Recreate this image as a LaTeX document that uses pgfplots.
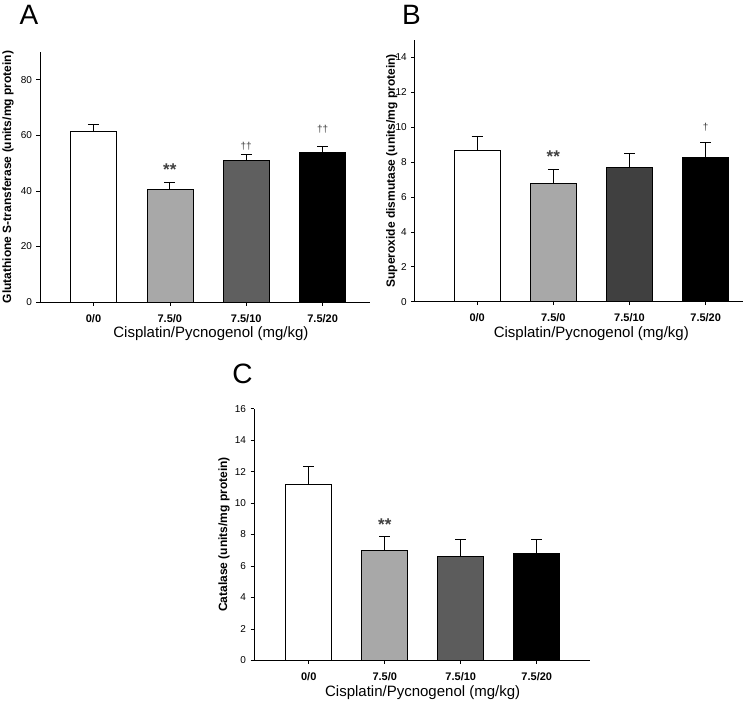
\documentclass[border=0pt]{standalone}
\usepackage{pgfplots}
\pgfplotsset{compat=1.18}
\usepackage{fontspec}
\setmainfont{Liberation Sans}
\definecolor{lgray}{RGB}{168,168,168}
\definecolor{dgrayA}{RGB}{95,95,95}
\definecolor{dgrayB}{RGB}{64,64,64}
\definecolor{dgrayC}{RGB}{92,92,92}
\pgfplotsset{
  panel/.style={
    scale only axis,
    axis x line*=bottom, axis y line*=left,
    axis line style={-, line width=0.8pt},
    ymin=0,
    xtick={0,1,2,3},
    xticklabels={0/0,7.5/0,7.5/10,7.5/20},
    tick align=outside,
    major tick length=3.5pt,
    tick style={line width=0.7pt, black},
    /pgf/number format/assume math mode=true,
    yticklabel style={font=\fontsize{10}{12}\selectfont, xshift=-1pt},
    xticklabel style={font=\fontsize{11}{13}\selectfont\bfseries, yshift=-5pt},
    xlabel={Cisplatin/Pycnogenol (mg/kg)},
    xlabel style={font=\fontsize{15}{17}\selectfont, anchor=center, yshift=-32pt},
    ylabel style={font=\fontsize{12}{14}\selectfont\bfseries, anchor=center},
    ybar, bar width=46pt, bar shift=0pt,
    every axis plot/.append style={draw=black, line width=0.7pt,
      error bars/y dir=plus, error bars/y explicit,
      error bars/error mark=|,
      error bars/error bar style={line width=0.9pt, black},
      error bars/error mark options={mark size=5.5pt, line width=0.9pt, black}},
  },
}
\begin{document}
\begin{tikzpicture}
\useasboundingbox (0pt,0pt) rectangle (748pt,-702pt);
% Panel A
\begin{axis}[panel,
  at={(40pt,-302pt)}, anchor=south west, width=330pt, height=250pt,
  xmin=-0.70, xmax=3.62, ymax=90, ytick={0,20,40,60,80},
  xlabel style={at={(axis description cs:0.518,0)}},
  ylabel={Glutathione S-transferase (units/mg protein)},
  ylabel style={at={(axis description cs:0,0.5)}, yshift=32pt}]
\addplot[fill=white] coordinates {(0,61.4) +- (0,2.6)};
\addplot[fill=lgray] coordinates {(1,40.5) +- (0,2.5)};
\addplot[fill=dgrayA] coordinates {(2,50.9) +- (0,2.1)};
\addplot[fill=black] coordinates {(3,53.9) +- (0,2.1)};
\node[font=\fontsize{17}{19}\selectfont\bfseries, text=black!75] at (axis cs:1,47.5) {**};
\node[font=\fontsize{10}{12}\selectfont, text=black!75] at (axis cs:2,56.0) {††};
\node[font=\fontsize{10}{12}\selectfont, text=black!75] at (axis cs:3,62.2) {††};
\end{axis}
% Panel B
\begin{axis}[panel,
  at={(414.7pt,-301.7pt)}, anchor=south west, width=328.3pt, height=261.7pt,
  xmin=-0.82, xmax=3.49, ymax=15, ytick={0,2,4,6,8,10,12,14},
  xlabel style={at={(axis description cs:0.538,0)}},
  ylabel={Superoxide dismutase (units/mg protein)},
  ylabel style={at={(axis description cs:0,0.5)}, yshift=23pt}]
\addplot[fill=white] coordinates {(0,8.7) +- (0,0.8)};
\addplot[fill=lgray] coordinates {(1,6.8) +- (0,0.8)};
\addplot[fill=dgrayB] coordinates {(2,7.7) +- (0,0.8)};
\addplot[fill=black] coordinates {(3,8.3) +- (0,0.8)};
\node[font=\fontsize{17}{19}\selectfont\bfseries, text=black!75] at (axis cs:1,8.3) {**};
\node[font=\fontsize{10}{12}\selectfont, text=black!75] at (axis cs:3,10.0) {†};
\end{axis}
% Panel C
\begin{axis}[panel,
  at={(254pt,-660.3pt)}, anchor=south west, width=336pt, height=251.6pt,
  xmin=-0.72, xmax=3.70, ymax=16, ytick={0,2,4,6,8,10,12,14,16},
  xlabel style={at={(axis description cs:0.502,0)}},
  ylabel={Catalase (units/mg protein)},
  ylabel style={at={(axis description cs:0,0.5)}, yshift=30pt}]
\addplot[fill=white] coordinates {(0,11.2) +- (0,1.1)};
\addplot[fill=lgray] coordinates {(1,7.0) +- (0,0.85)};
\addplot[fill=dgrayC] coordinates {(2,6.6) +- (0,1.1)};
\addplot[fill=black] coordinates {(3,6.8) +- (0,0.87)};
\node[font=\fontsize{17}{19}\selectfont\bfseries, text=black!75] at (axis cs:1,8.6) {**};
\end{axis}
\node[font=\fontsize{28}{30}\selectfont] at (29pt,-15pt) {A};
\node[font=\fontsize{28}{30}\selectfont] at (411.5pt,-15pt) {B};
\node[font=\fontsize{28}{30}\selectfont] at (242.5pt,-374pt) {C};
\end{tikzpicture}
\end{document}
